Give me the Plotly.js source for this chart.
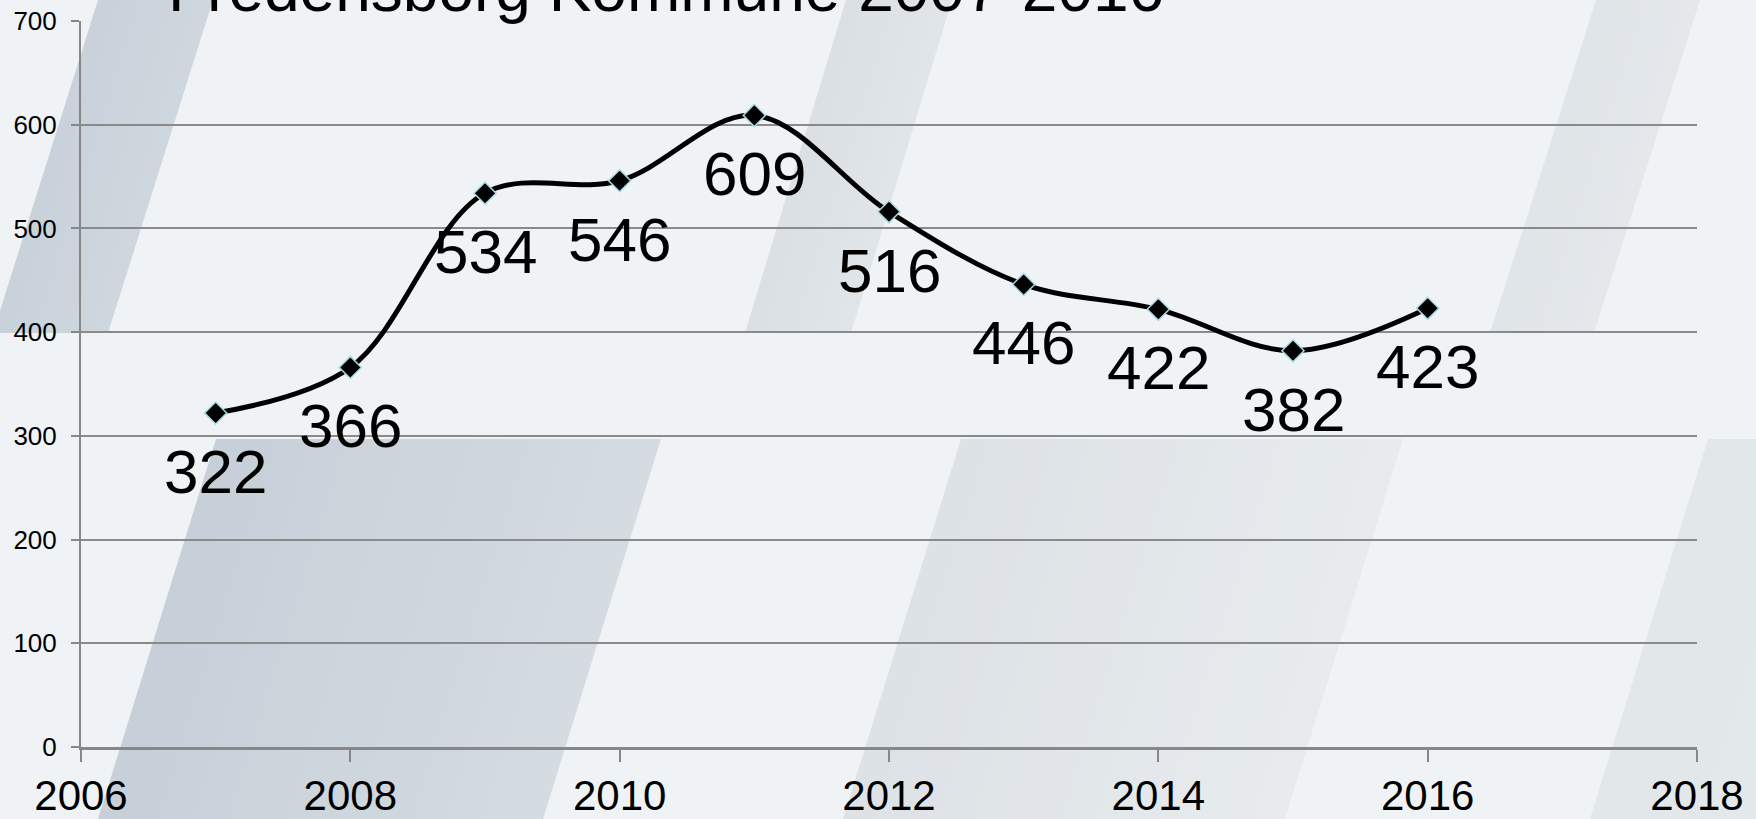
<!DOCTYPE html>
<html>
<head>
<meta charset="utf-8">
<script src="https://cdn.plot.ly/plotly-3.0.1.min.js"></script>
<style>
  html, body { margin: 0; padding: 0; background: #eff3f6; }
  #chart { width: 1756px; height: 819px; }
</style>
</head>
<body>
<div id="chart"></div>
<script>
// ---- data ----
const years = [2007, 2008, 2009, 2010, 2011, 2012, 2013, 2014, 2015, 2016];
const values = [322, 366, 534, 546, 609, 516, 446, 422, 382, 423];
const labels = values.map(String);
const titleText = "Fredensborg Kommune 2007-2016";
const xTicks = [2006, 2008, 2010, 2012, 2014, 2016, 2018];
const yTicks = [0, 100, 200, 300, 400, 500, 600, 700];

// ---- layout geometry ----
const W = 1756, H = 819;
const M = { l: 81, r: 59, t: 21, b: 72 };
const PW = W - M.l - M.r, PH = H - M.t - M.b;
const px = x => (x - M.l) / PW;
const py = y => (H - M.b - y) / PH;
const FONT = 'Liberation Sans, Arial, sans-serif';

function hex2rgb(h) { return [1, 3, 5].map(i => parseInt(h.substr(i, 2), 16)); }
function mix(a, b, t) {
  const A = hex2rgb(a), B = hex2rgb(b);
  return 'rgb(' + A.map((v, i) => Math.round(v + (B[i] - v) * t)).join(',') + ')';
}
function pathOf(pts) {
  return pts.map((p, i) => (i ? 'L' : 'M') + px(p[0]).toFixed(5) + ',' + py(p[1]).toFixed(5)).join(' ') + ' Z';
}
// slanted decorative band with a left->right gradient made of thin slices
function band(xl, xr, yt, yb, shift, c1, c2, n) {
  const out = [];
  n = n || 1;
  for (let i = 0; i < n; i++) {
    const a = xl + (xr - xl) * i / n, b = xl + (xr - xl) * (i + 1) / n + (i < n - 1 ? 0.8 : 0);
    out.push({
      type: 'path', xref: 'paper', yref: 'paper',
      path: pathOf([[a, yt], [b, yt], [b - shift, yb], [a - shift, yb]]),
      fillcolor: mix(c1, c2, n === 1 ? 0 : i / (n - 1)), line: { width: 0 }, layer: 'below'
    });
  }
  return out;
}

const shapes = [].concat(
  band(98, 213, 0, 333, 105, '#c9d1da', '#cfd7de', 6),
  band(846, 952, 0, 333, 101, '#dbe0e5', '#e0e5e9', 6),
  band(1596, 1700, 0, 333, 106, '#e0e5e9', '#e4e8eb', 6),
  band(216, 661, 439, 819, 118, '#c7d0d9', '#d4dbe1', 14),
  band(961, 1403, 439, 819, 118, '#dde2e6', '#e7ebee', 14),
  band(1708, 2150, 439, 819, 118, '#e2e7ea', '#e6eaed', 4)
);

const trace = {
  x: years,
  y: values,
  type: 'scatter',
  mode: 'lines+markers',
  line: { color: '#000000', width: 5, shape: 'spline', smoothing: 1 },
  marker: { symbol: 'diamond', size: 17, color: '#000000', line: { color: '#a9d9e2', width: 1.5 } },
  cliponaxis: false,
  hoverinfo: 'x+y'
};

const dataLabels = years.map((yr, i) => ({
  x: yr, y: values[i], xref: 'x', yref: 'y',
  text: labels[i], showarrow: false,
  xanchor: 'center', yanchor: 'top', yshift: -22,
  font: { family: FONT, size: 62, color: '#000000' }
}));

const layout = {
  width: W, height: H,
  margin: M,
  paper_bgcolor: '#eff3f6',
  plot_bgcolor: 'rgba(0,0,0,0)',
  showlegend: false,
  font: { family: FONT, color: '#000000' },
  shapes: shapes,
  annotations: [{
    text: titleText,
    xref: 'paper', yref: 'paper',
    x: px(166), y: py(27),
    xanchor: 'left', yanchor: 'bottom',
    showarrow: false,
    font: { family: FONT, size: 64, color: '#000000' }
  }].concat(dataLabels),
  xaxis: {
    range: [2006, 2018],
    tickvals: xTicks,
    ticktext: xTicks.map(String),
    showgrid: false,
    zeroline: false,
    showline: true,
    linecolor: '#878787',
    linewidth: 3,
    ticks: 'outside',
    ticklen: 12,
    tickwidth: 2,
    tickcolor: '#878787',
    tickfont: { size: 42, color: '#000000' },
    ticklabelstandoff: -2,
    fixedrange: true
  },
  yaxis: {
    range: [0, 700],
    tickvals: yTicks,
    showgrid: true,
    gridcolor: '#8a8a8a',
    gridwidth: 2,
    zeroline: false,
    showline: true,
    linecolor: '#878787',
    linewidth: 2,
    ticks: 'outside',
    ticklen: 8,
    tickwidth: 2,
    tickcolor: '#878787',
    tickfont: { size: 26, color: '#000000' },
    ticklabelstandoff: 9,
    fixedrange: true
  }
};

Plotly.newPlot('chart', [trace], layout, { displayModeBar: false, staticPlot: true });
</script>
</body>
</html>
